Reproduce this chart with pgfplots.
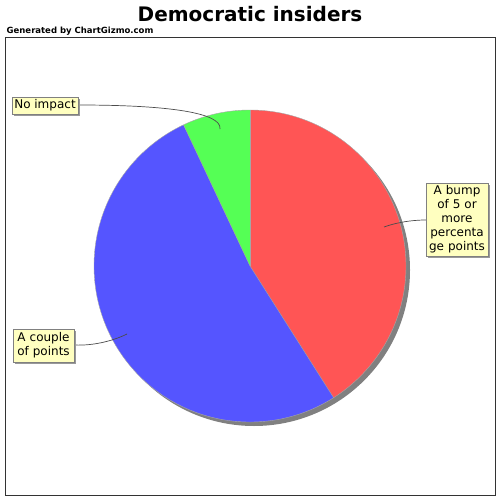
\documentclass[border=0pt]{standalone}
\usepackage{fontspec}
\setmainfont{DejaVu Sans}
\usepackage{pgfplots}
\usepackage{pgfplotstable}
\pgfplotsset{compat=1.18}
\usetikzlibrary{shadows}

\definecolor{sliceRed}{HTML}{FF5555}
\definecolor{sliceBlue}{HTML}{5555FF}
\definecolor{sliceGreen}{HTML}{55FF55}
\definecolor{pieShadow}{HTML}{808080}
\definecolor{labelFill}{HTML}{FFFFC0}
\definecolor{frameGray}{HTML}{333333}

% Shares of the pie, in percent, in drawing order (clockwise from 12 o'clock)
\pgfplotstableread{
label value
bump 41
couple 52
none 7
}\piedata

\begin{document}
\begin{tikzpicture}
\pgfplotstablegetelem{0}{value}\of\piedata \let\vA\pgfplotsretval
\pgfplotstablegetelem{1}{value}\of\piedata \let\vB\pgfplotsretval
\pgfplotstablegetelem{2}{value}\of\piedata \let\vC\pgfplotsretval
\pgfmathsetmacro{\total}{\vA+\vB+\vC}
\pgfmathsetmacro{\aA}{90-3.6*(\vA/\total)*100}
\pgfmathsetmacro{\aB}{\aA-3.6*(\vB/\total)*100}
\pgfmathsetmacro{\aC}{\aB-3.6*(\vC/\total)*100}
\begin{axis}[
  width=500pt, height=500pt, scale only axis,
  xmin=0, xmax=500, ymin=0, ymax=500, y dir=reverse,
  hide axis, clip=false,
]
  \path (axis cs:0,0) rectangle (axis cs:500,500);
  % title and subtitle
  \node[font=\fontsize{20}{24}\selectfont\bfseries] at (axis cs:250,14) {Democratic insiders};
  \node[anchor=west, inner sep=0pt, font=\fontsize{8.5}{10}\selectfont\bfseries] at (axis cs:6.5,31.5) {Generated by ChartGizmo.com};
  % plot frame
  \draw[frameGray, line width=1pt] (axis cs:5.5,37.5) rectangle (axis cs:495.5,495);
  % pie shadow
  \fill[pieShadow] (axis cs:254,270) circle[radius=156pt];
  % slices
  \fill[sliceRed] (axis cs:250,266) -- ++(90:156pt) arc[start angle=90, end angle=\aA, radius=156pt] -- cycle;
  \fill[sliceBlue] (axis cs:250,266) -- ++(\aA:156pt) arc[start angle=\aA, end angle=\aB, radius=156pt] -- cycle;
  \fill[sliceGreen] (axis cs:250,266) -- ++(\aB:156pt) arc[start angle=\aB, end angle=\aC, radius=156pt] -- cycle;
  \draw[gray!70, line width=0.4pt] (axis cs:250,266) circle[radius=156pt];
  \draw[gray!70, line width=0.4pt] (axis cs:250,266) -- ++(90:156pt);
  \draw[gray!70, line width=0.4pt] (axis cs:250,266) -- ++(\aA:156pt);
  \draw[gray!70, line width=0.4pt] (axis cs:250,266) -- ++(\aB:156pt);
  % connectors
  \draw[gray!60!black, line width=0.7pt] (axis cs:78,105) .. controls (axis cs:170,105) and (axis cs:222,113) .. (axis cs:220,129);
  \draw[gray!60!black, line width=0.7pt] (axis cs:426,220) .. controls (axis cs:410,220) and (axis cs:395,223) .. (axis cs:384,227);
  \draw[gray!60!black, line width=0.7pt] (axis cs:74,345) .. controls (axis cs:95,346) and (axis cs:115,340) .. (axis cs:127,334);
  % labels
  \tikzset{pielabel/.style={draw=gray, line width=0.6pt, fill=labelFill, inner sep=0pt, align=center,
      font=\fontsize{12}{14}\selectfont,
      drop shadow={shadow xshift=2pt, shadow yshift=-2pt, fill=gray!80, opacity=1}}}
  \node[pielabel, minimum width=66pt, minimum height=17pt] at (axis cs:45,105.5) {No impact};
  \node[pielabel, minimum width=62pt, minimum height=73pt, text width=60pt] at (axis cs:457,219.5) {A bump\\of 5 or\\more\\percenta\\ge points};
  \node[pielabel, minimum width=61pt, minimum height=33pt, text width=59pt] at (axis cs:43.5,345.5) {A couple\\of points};
\end{axis}
\end{tikzpicture}
\end{document}
